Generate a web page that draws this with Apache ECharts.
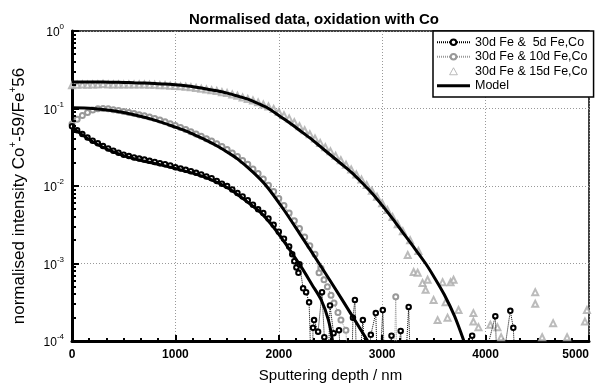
<!DOCTYPE html>
<html><head><meta charset="utf-8">
<script src="https://cdn.jsdelivr.net/npm/echarts@6/dist/echarts.min.js"></script>
<style>html,body{margin:0;padding:0;background:#fff}#c{width:607px;height:391px}</style>
</head><body><div id="c"></div><script>
// ---- data ----
const seriesNames = ['30d Fe &  5d Fe,Co', '30d Fe & 10d Fe,Co', '30d Fe & 15d Fe,Co', 'Model'];
const xTicks = [0, 1000, 2000, 3000, 4000, 5000];
const yTickExponents = [0, -1, -2, -3, -4];

// 5d Fe,Co data (open circles); values below 1e-4 drop off the axis
const d5 = [0,50,100,150,200,250,300,350,400,450,500,550,600,650,700,750,800,850,900,950,1000,1050,1100,1150,1200,1250,1300,1350,1400,1450,1500,1550,1600,1650,1700,1750,1800,1850,1900,1950,2000,2050,2100,2130,2150,2170,2190,2200,2235,2264,2293,2320,2331,2341,2380,2418,2440,2470,2495,2530,2582,2620,2700,2717,2736,2760,2813,2850,2890,2938,2960,3006,3030,3090,3110,3179,3210,3256,3280,3870,3900,4094,4120,4239,4268,4300,5000];
const v5 = [0.0589,0.0525,0.0468,0.0422,0.0385,0.0355,0.0327,0.0305,0.0285,0.0269,0.0254,0.0243,0.0234,0.0226,0.0219,0.0211,0.0204,0.0197,0.0191,0.0184,0.0174,0.0168,0.0162,0.0155,0.0148,0.0141,0.0133,0.0126,0.0116,0.0107,0.0100,0.00902,0.00813,0.00733,0.00653,0.00575,0.00501,0.00447,0.00380,0.00316,0.00257,0.00209,0.00166,0.00132,0.00107,0.000891,0.000759,0.000977,0.000479,0.000427,0.000316,0.00002,0.000148,0.000186,0.000132,0.000427,0.000112,0.00002,0.000288,0.000126,0.000138,0.00002,0.00002,0.000200,0.000339,0.00002,0.000186,0.00002,0.000120,0.000229,0.00002,0.000251,0.00002,0.000117,0.00002,0.000135,0.00002,0.000275,0.00002,0.000117,0.00002,0.000209,0.00002,0.000245,0.000148,0.00002,0.00002];

// 10d Fe,Co data
const d10 = [0,50,100,150,200,250,300,350,400,450,500,550,600,650,700,750,800,850,900,950,1000,1050,1100,1150,1200,1250,1300,1350,1400,1450,1500,1550,1600,1650,1700,1750,1800,1850,1900,1950,2000,2050,2100,2150,2200,2250,2300,2350,2389,2408,2437,2470,2505,2534,2572,2601,2649,2680,3110,3131,3150,5000];
const v10 = [0.0631,0.0724,0.0813,0.0891,0.0955,0.0989,0.100,0.0989,0.0966,0.0944,0.0912,0.0891,0.0861,0.0832,0.0804,0.0776,0.0741,0.0708,0.0676,0.0638,0.0603,0.0569,0.0537,0.0501,0.0468,0.0437,0.0407,0.0380,0.0351,0.0324,0.0295,0.0266,0.0240,0.0214,0.0191,0.0166,0.0145,0.0123,0.0102,0.00851,0.00692,0.00562,0.00447,0.00355,0.00282,0.00219,0.00170,0.00132,0.000759,0.000871,0.000617,0.000501,0.000389,0.000309,0.000234,0.000186,0.000138,0.00002,0.00002,0.000372,0.00002,0.00002];

// 15d Fe,Co data (triangles, no line)
const d15 = [0,50,100,150,200,250,300,350,400,450,500,550,600,650,700,750,800,850,900,950,1000,1050,1100,1150,1200,1250,1300,1350,1400,1450,1500,1550,1600,1650,1700,1750,1800,1850,1900,1950,2000,2050,2100,2150,2200,2250,2300,2350,2400,2450,2500,2550,2600,2650,2700,2750,2800,2850,2900,2950,3000,3050,3100,3150,3200,3247,3270,3304,3343,3350,3390,3420,3439,3497,3536,3584,3613,3632,3661,3690,3738,3882,3882,3931,4046,4114,4150,4480,4480,4547,4653,4788,4961,4980];
const v15 = [0.200,0.202,0.204,0.202,0.204,0.204,0.207,0.204,0.204,0.204,0.204,0.204,0.204,0.204,0.204,0.202,0.202,0.200,0.200,0.197,0.195,0.193,0.191,0.188,0.184,0.180,0.176,0.172,0.168,0.162,0.158,0.152,0.146,0.139,0.133,0.127,0.120,0.113,0.106,0.0985,0.0900,0.0820,0.0745,0.0665,0.0590,0.0525,0.0465,0.0410,0.0360,0.0316,0.0280,0.0245,0.0215,0.0188,0.0163,0.0141,0.0121,0.0103,0.00870,0.00725,0.00600,0.00490,0.00398,0.00320,0.00260,0.00129,0.00200,0.000776,0.000759,0.00145,0.000562,0.000457,0.000617,0.000339,0.000186,0.000575,0.000316,0.000200,0.000575,0.000617,0.000251,0.000229,0.000178,0.000151,0.000162,0.000151,0.000112,0.000427,0.000302,0.000112,0.000170,0.000112,0.000178,0.000251];

// Model curves
const dModelA = [0,100,200,300,400,500,600,700,800,900,1000,1100,1200,1300,1400,1500,1600,1700,1800,1900,2000,2100,2200,2300,2400,2500,2600,2700,2800,2900,3000,3100,3200,3300,3420,3500,3600,3700,3790];
const vModelA = [0.220,0.220,0.219,0.219,0.218,0.217,0.215,0.213,0.210,0.207,0.202,0.196,0.188,0.179,0.169,0.158,0.145,0.132,0.116,0.100,0.0813,0.0661,0.0525,0.0417,0.0324,0.0251,0.0195,0.0151,0.0112,0.00813,0.00562,0.00380,0.00251,0.00166,0.00100,0.000676,0.000398,0.000209,0.000100];
const dModelB = [0,200,400,600,800,1000,1100,1200,1300,1400,1500,1600,1750,1880,2050,2200,2390,2600,2860];
const vModelB = [0.102,0.100,0.0933,0.0832,0.0708,0.0575,0.0513,0.0447,0.0389,0.0331,0.0275,0.0224,0.0151,0.0100,0.0049,0.00245,0.00100,0.000363,0.000100];
const dModelC = [0,100,200,300,400,550,700,870,1000,1130,1250,1350,1500,1610,1720,1830,1930,2020,2120,2220,2320,2410,2480,2520];
const vModelC = [0.0575,0.0457,0.0372,0.0316,0.0275,0.0234,0.0209,0.0186,0.0168,0.0151,0.0135,0.0120,0.00955,0.00759,0.00589,0.00447,0.00316,0.00219,0.00141,0.000891,0.000537,0.000339,0.000186,0.000100];

// ---- chart ----
const FONT = 'Liberation Sans, Arial, Helvetica, sans-serif';
const zip = (a, b) => a.map((x, i) => [x, b[i]]);
const chart = echarts.init(document.getElementById('c'), null, {renderer: 'canvas'});

const modelSeries = (d, v) => ({
  name: seriesNames[3], type: 'line', data: zip(d, v), symbol: 'none', smooth: 0.3,
  lineStyle: {color: '#000', width: 3}, itemStyle: {color: '#000'}, z: 10, clip: true
});

chart.setOption({
  animation: false,
  backgroundColor: '#fff',
  title: {
    text: 'Normalised data, oxidation with Co', left: 309, textAlign: 'center', top: 7,
    textStyle: {fontFamily: FONT, fontSize: 15, fontWeight: 'bold', color: '#000'}
  },
  grid: {left: 70, right: 18, top: 31, bottom: 50, show: true, borderColor: '#000', borderWidth: 1.5, backgroundColor: 'transparent'},
  legend: {
    orient: 'vertical', left: 433, top: 31,
    data: [
      {name: seriesNames[0]},
      {name: seriesNames[1]},
      {name: seriesNames[2], icon: 'path://M5,0L10,9L0,9Z', itemStyle: {color: '#fff', borderColor: '#aaa', borderWidth: 1}},
      {name: seriesNames[3], icon: 'path://M0,0H33V3H0Z', itemStyle: {color: '#000', borderWidth: 0}}
    ],
    backgroundColor: '#fff', borderColor: '#000', borderWidth: 1.5, borderRadius: 0,
    padding: [4, 6, 4, 3], itemGap: 0, itemWidth: 33, itemHeight: 7,
    textStyle: {fontFamily: FONT, fontSize: 12.5, color: '#000', lineHeight: 14.5}
  },
  xAxis: {
    type: 'value', min: xTicks[0], max: xTicks[xTicks.length - 1], interval: 1000,
    name: 'Sputtering depth / nm', nameLocation: 'middle', nameGap: 27,
    nameTextStyle: {fontFamily: FONT, fontSize: 15, color: '#000'},
    axisLine: {show: true, lineStyle: {color: '#000', width: 3}},
    axisTick: {show: true, inside: true, length: 6, lineStyle: {color: '#000', width: 2}},
    minorTick: {show: true, splitNumber: 6, length: 3, lineStyle: {color: '#000', width: 2}},
    axisLabel: {fontFamily: FONT, fontSize: 12, fontWeight: 'bold', color: '#000', margin: 8,
      formatter: v => String(v), alignMaxLabel: 'right'},
    splitLine: {show: true, lineStyle: {color: '#999', type: [1, 2], width: 1}}
  },
  yAxis: {
    type: 'log', logBase: 10, min: 0.0001, max: 1,
    name: '{s|normalised intensity Co}{p|+}{s|-59/Fe}{p|+}{s|56}', nameLocation: 'middle', nameGap: 44,
    nameTextStyle: {fontFamily: FONT, fontSize: 17, color: '#000', padding: [0, 20, 0, 0],
      rich: {s: {fontFamily: FONT, fontSize: 17, lineHeight: 20, verticalAlign: 'bottom'},
             p: {fontFamily: FONT, fontSize: 10, lineHeight: 10, verticalAlign: 'top'}}},
    axisLine: {show: true, lineStyle: {color: '#000', width: 3}},
    axisTick: {show: true, inside: true, length: 7, lineStyle: {color: '#000', width: 2}},
    axisLabel: {
      margin: 8, fontFamily: FONT, color: '#000',
      formatter: v => '{b|10}{e|' + Math.round(Math.log10(v)) + '}',
      rich: {b: {fontFamily: FONT, fontSize: 12, lineHeight: 16, verticalAlign: 'bottom', color: '#000'},
             e: {fontFamily: FONT, fontSize: 8, lineHeight: 8, verticalAlign: 'top', color: '#000'}}
    },
    splitLine: {show: true, lineStyle: {color: '#999', type: [1, 2], width: 1}}
  },
  series: [
    {name: seriesNames[2], type: 'scatter', data: zip(d15, v15), symbol: 'emptyTriangle', symbolSize: 6,
     itemStyle: {color: '#aaa', borderColor: '#aaa', borderWidth: 1}, z: 2, clip: true},
    {name: seriesNames[1], type: 'line', data: zip(d10, v10), symbol: 'emptyCircle', symbolSize: 5, showAllSymbol: true,
     itemStyle: {color: '#999', borderColor: '#999', borderWidth: 1}, lineStyle: {color: '#999', width: 1, type: [1, 1]}, z: 3, clip: true},
    {name: seriesNames[0], type: 'line', data: zip(d5, v5), symbol: 'emptyCircle', symbolSize: 4.5, showAllSymbol: true,
     itemStyle: {color: '#000', borderColor: '#000', borderWidth: 1}, lineStyle: {color: '#000', width: 1, type: [1, 1]}, z: 4, clip: true},
    modelSeries(dModelA, vModelA),
    modelSeries(dModelB, vModelB),
    modelSeries(dModelC, vModelC)
  ]
});

// minor log ticks on the y axis (2..9 x each decade), positioned with the axis scale
const minorY = [];
for (let e = -4; e < 0; e++) for (let m = 2; m <= 9; m++) minorY.push(m * Math.pow(10, e));
const x0 = chart.convertToPixel({xAxisIndex: 0}, 0);
chart.setOption({
  graphic: minorY.map(v => {
    const y = Math.round(chart.convertToPixel({yAxisIndex: 0}, v));
    return {type: 'line', shape: {x1: x0, y1: y, x2: x0 + 4, y2: y}, style: {stroke: '#000', lineWidth: 2}, z: 20, silent: true};
  })
});
</script></body></html>
